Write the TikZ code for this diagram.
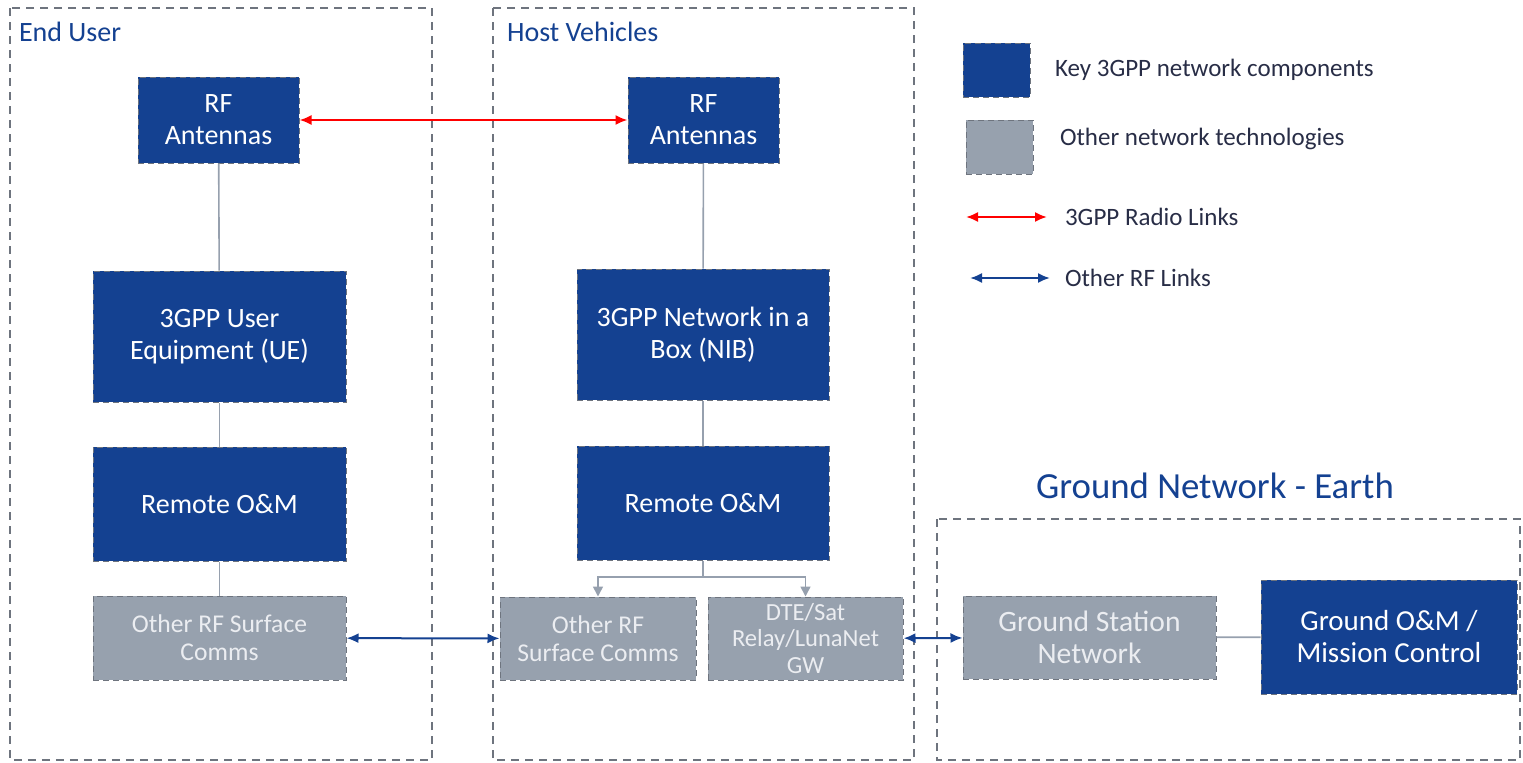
\documentclass[tikz,border=0pt]{standalone}
\usepackage{fontspec}
\setmainfont{Carlito}
\usetikzlibrary{arrows.meta}
\definecolor{nblue}{RGB}{20,65,145}
\definecolor{ngray}{RGB}{151,161,174}
\definecolor{bgray}{RGB}{110,116,126}
\definecolor{lgray}{RGB}{150,160,174}
\definecolor{ltext}{RGB}{235,237,241}
\definecolor{ttext}{RGB}{40,45,70}
\tikzset{
  box/.style={draw=bgray, densely dashed, line width=0.5pt, inner sep=0pt, align=center},
  bluebox/.style={box, fill=nblue, text=white, font=\fontsize{14}{16}\selectfont},
  graybox/.style={box, fill=ngray, text=ltext, font=\fontsize{12.8}{14}\selectfont},
  container/.style={draw=bgray, dash pattern=on 4pt off 3pt, line width=0.7pt},
  title/.style={text=nblue, anchor=west, font=\fontsize{14}{15}\selectfont},
  link/.style={draw=lgray, line width=0.8pt},
  redlink/.style={draw=red, line width=1pt, {Latex[length=6pt,width=5pt]}-{Latex[length=6pt,width=5pt]}},
  bluelink/.style={draw=nblue, line width=1pt, {Latex[length=6pt,width=5pt]}-{Latex[length=6pt,width=5pt]}},
  downarrow/.style={link, -{Triangle[length=5pt,width=5pt]}},
  legtext/.style={anchor=west, text=ttext, font=\fontsize{12.5}{14}\selectfont},
}
\begin{document}
\begin{tikzpicture}[x=0.5pt,y=-0.5pt]
\useasboundingbox (0,0) rectangle (1523,762);
% containers
\draw[container] (10,8) rectangle (432,760);
\draw[container] (493,8) rectangle (914,760);
\draw[container] (937,519) rectangle (1520,760);
\node[title] (tEU) at (12,32) {End User};
\node[title] (tHV) at (500,32) {Host Vehicles};
\node[text=nblue, font=\fontsize{18.4}{20}\selectfont] (tGN) at (1215,486) {Ground Network - Earth};
% end user column
\node[bluebox, minimum width=80.5pt, minimum height=43pt] (rf1) at (218.5,120) {RF\\Antennas};
\node[bluebox, minimum width=126.5pt, minimum height=65.5pt] (ue) at (219.5,336.5) {3GPP User\\Equipment (UE)};
\node[bluebox, minimum width=126.5pt, minimum height=57pt] (om1) at (219.5,504) {Remote O\&M};
\node[graybox, minimum width=126.5pt, minimum height=42pt] (orf1) at (219.5,638) {Other RF Surface\\Comms};
% host vehicles column
\node[bluebox, minimum width=75.5pt, minimum height=43pt] (rf2) at (703.5,120) {RF\\Antennas};
\node[bluebox, minimum width=126pt, minimum height=65.5pt] (nib) at (703,334.5) {3GPP Network in a\\Box (NIB)};
\node[bluebox, minimum width=126pt, minimum height=57pt] (om2) at (703,503) {Remote O\&M};
\node[graybox, minimum width=98pt, minimum height=41.5pt] (orf2) at (598,638.5) {Other RF\\Surface Comms};
\node[graybox, minimum width=97.5pt, minimum height=41.5pt, font=\fontsize{12.3}{13.3}\selectfont] (dte) at (805.5,638.5) {DTE/Sat\\Relay/LunaNet\\GW};
% ground
\node[graybox, minimum width=126.5pt, minimum height=41.5pt, font=\fontsize{14.8}{16}\selectfont] (gsn) at (1089.5,637.5) {Ground Station\\Network};
\node[bluebox, minimum width=128pt, minimum height=57pt, font=\fontsize{14.5}{16}\selectfont] (gom) at (1389,637) {Ground O\&M /\\Mission Control};
% legend
\node[box, fill=nblue, minimum width=33.5pt, minimum height=27pt] (lgb) at (996.5,70) {};
\node[box, fill=ngray, minimum width=33.5pt, minimum height=27pt] (lgg) at (999.5,147) {};
\node[legtext] (lt1) at (1048,70) {Key 3GPP network components};
\node[legtext] (lt2) at (1053,139) {Other network technologies};
\coordinate (la1) at (966,217);
\coordinate (lb1) at (1047,217);
\coordinate (la2) at (970,278);
\coordinate (lb2) at (1050,278);
\node[legtext] (lt3) at (1058,217) {3GPP Radio Links};
\node[legtext] (lt4) at (1058,278) {Other RF Links};
\draw[redlink] (la1) -- (lb1);
\draw[bluelink] (la2) -- (lb2);
% connectors
\draw[link] (rf1) -- (ue);
\draw[link] (ue) -- (om1);
\draw[link] (om1) -- (orf1);
\draw[link] (rf2) -- (nib);
\draw[link] (nib) -- (om2);
\coordinate (split) at (703,577);
\draw[link] (om2.south) -- (split);
\draw[downarrow] (split) -| (orf2.north);
\draw[downarrow] (split) -| (dte.north);
\draw[link] (gsn) -- (gom);
\draw[redlink] (rf1) -- (rf2);
\draw[bluelink] (orf1) -- (orf2);
\draw[bluelink] (dte) -- (gsn);
\end{tikzpicture}
\end{document}
